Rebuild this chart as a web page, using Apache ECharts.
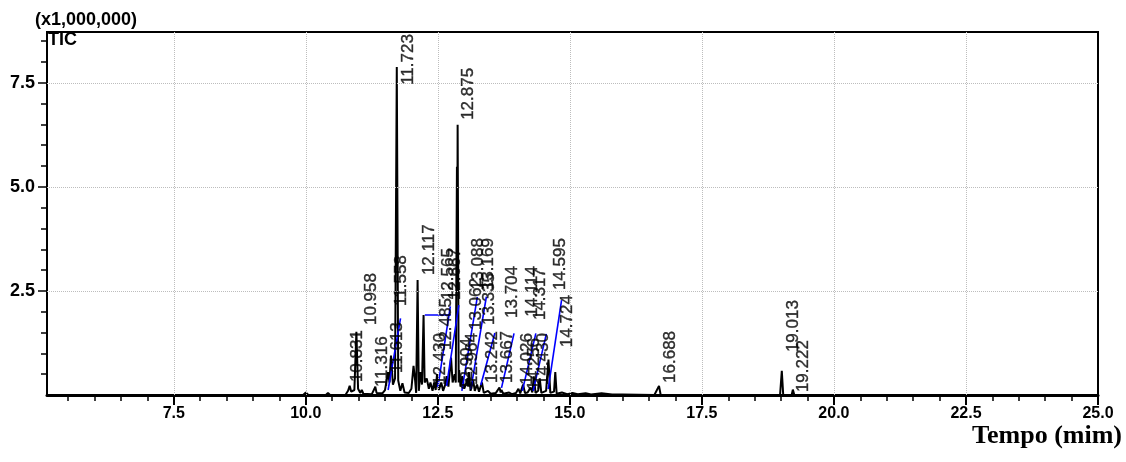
<!DOCTYPE html>
<html>
<head>
<meta charset="utf-8">
<script src="https://cdn.jsdelivr.net/npm/echarts@6/dist/echarts.min.js"></script>
<style>
html,body{margin:0;padding:0;background:#fff;}
#c{width:1126px;height:462px;}
</style>
</head>
<body>
<div id="c"></div>
<script>
// ---- data ----
const xMajorTicks = [7.5, 10.0, 12.5, 15.0, 17.5, 20.0, 22.5, 25.0];
const xMinorTicks = [5.5, 6.0, 6.5, 7.0, 8.0, 8.5, 9.0, 9.5, 10.5, 11.0, 11.5, 12.0, 13.0, 13.5, 14.0, 14.5, 15.5, 16.0, 16.5, 17.0, 18.0, 18.5, 19.0, 19.5, 20.5, 21.0, 21.5, 22.0, 23.0, 23.5, 24.0, 24.5];
const yMajorTicks = [2.5, 5.0, 7.5];
const yMinorTicks = [0.5, 1.0, 1.5, 2.0, 3.0, 3.5, 4.0, 4.5, 5.5, 6.0, 6.5, 7.0, 8.0, 8.5];
const gridX = [7.5, 10.0, 12.5, 15.0, 17.5, 20.0, 22.5];
const gridY = [2.5, 5.0, 7.5];

// TIC trace (x1,000,000)
const traceTime = [5.10, 9.95, 10.00, 10.05, 10.38, 10.42, 10.46, 10.75, 10.80, 10.831, 10.86, 10.92, 10.958, 10.99, 11.03, 11.06, 11.09, 11.25, 11.30, 11.316, 11.34, 11.45, 11.50, 11.53, 11.558, 11.585, 11.613, 11.65, 11.69, 11.723, 11.75, 11.79, 11.83, 11.87, 11.95, 12.00, 12.04, 12.07, 12.09, 12.117, 12.14, 12.17, 12.20, 12.23, 12.25, 12.29, 12.33, 12.36, 12.40, 12.43, 12.46, 12.485, 12.52, 12.565, 12.60, 12.64, 12.667, 12.70, 12.75, 12.78, 12.82, 12.84, 12.862, 12.868, 12.875, 12.895, 12.904, 12.93, 12.964, 13.00, 13.03, 13.062, 13.075, 13.088, 13.12, 13.14, 13.169, 13.20, 13.242, 13.28, 13.335, 13.37, 13.45, 13.50, 13.60, 13.667, 13.69, 13.704, 13.74, 13.85, 13.90, 13.98, 14.026, 14.06, 14.114, 14.15, 14.20, 14.256, 14.29, 14.317, 14.35, 14.40, 14.43, 14.46, 14.55, 14.595, 14.63, 14.70, 14.724, 14.75, 14.85, 14.95, 15.05, 15.15, 15.30, 15.40, 15.60, 15.80, 16.00, 16.60, 16.688, 16.72, 18.98, 19.013, 19.04, 19.20, 19.222, 19.25, 25.0];
const traceValue = [0.00, 0.00, 0.06, 0.00, 0.00, 0.05, 0.00, 0.00, 0.10, 0.22, 0.08, 0.12, 1.52, 0.15, 0.05, 0.12, 0.03, 0.02, 0.15, 0.20, 0.05, 0.04, 0.12, 0.08, 0.55, 0.30, 0.95, 0.25, 0.40, 7.88, 0.35, 0.10, 0.28, 0.06, 0.05, 0.15, 0.70, 0.35, 0.05, 2.76, 0.10, 0.55, 0.25, 1.92, 0.30, 0.40, 0.15, 0.30, 0.10, 0.30, 0.12, 0.50, 0.12, 0.30, 0.10, 0.25, 0.45, 0.20, 0.90, 0.30, 0.50, 0.30, 5.48, 3.00, 6.49, 0.30, 0.60, 0.20, 0.45, 0.15, 0.25, 0.40, 0.20, 0.55, 0.10, 0.20, 0.35, 0.10, 0.25, 0.08, 0.30, 0.05, 0.10, 0.03, 0.05, 0.18, 0.06, 0.12, 0.03, 0.06, 0.02, 0.05, 0.15, 0.04, 0.25, 0.05, 0.06, 0.18, 0.06, 0.45, 0.05, 0.10, 0.40, 0.05, 0.10, 0.85, 0.05, 0.08, 0.55, 0.03, 0.06, 0.02, 0.05, 0.02, 0.04, 0.01, 0.04, 0.01, 0.01, 0.00, 0.22, 0.00, 0.00, 0.58, 0.00, 0.00, 0.13, 0.00, 0.00];

// peak labels: text, where the label sits (time, intensity at its lower end)
const labelText  = ["10.831", "10.958", "11.316", "11.613", "11.558", "11.723", "12.117", "12.430", "12.485", "12.565", "12.667", "12.875", "12.904", "12.964", "13.062", "13.088", "13.169", "13.242", "13.335", "13.667", "13.704", "14.026", "14.114", "14.256", "14.317", "14.430", "14.595", "14.724", "16.688", "19.013", "19.222"];
const labelTime  = [10.985, 11.25, 11.458, 11.742, 11.818, 11.932, 12.348, 12.538, 12.652, 12.708, 12.84, 13.068, 13.049, 13.144, 13.22, 13.258, 13.447, 13.523, 13.466, 13.807, 13.902, 14.186, 14.28, 14.318, 14.432, 14.489, 14.811, 14.943, 16.894, 19.223, 19.413];
const labelValue = [0.31, 1.68, 0.19, 0.53, 2.14, 7.45, 2.88, 0.24, 1.08, 2.28, 2.28, 6.61, 0.12, 0.24, 1.56, 2.52, 2.52, 0.29, 1.68, 0.29, 1.85, 0.24, 1.88, 0.12, 1.80, 0.24, 2.52, 1.15, 0.29, 1.03, 0.07];

// blue marker segments: [t1, v1, t2, v2]
const blueSegments = [
  [11.559, 0.12, 11.794, 1.84],
  [12.254, 1.92, 12.746, 1.92],
  [12.500, 0.19, 12.737, 2.13],
  [12.665, 0.22, 12.898, 2.16],
  [12.955, 0.10, 13.248, 2.36],
  [13.125, 0.14, 13.419, 2.36],
  [13.314, 0.24, 13.580, 1.49],
  [13.706, 0.17, 13.943, 1.48],
  [14.100, 0.10, 14.356, 1.48],
  [14.305, 0.10, 14.555, 1.47],
  [14.589, 0.14, 14.843, 2.28]
];

const xMin = 5.1, xMax = 25.0, yMin = 0, yMax = 8.72;

// ---- chart ----
const chart = echarts.init(document.getElementById('c'), null, {renderer: 'canvas'});
const fmt1 = v => Number(v).toFixed(1);

const option = {
  animation: false,
  backgroundColor: '#ffffff',
  grid: {left: 47, right: 28, top: 32, bottom: 67, show: true, borderColor: '#000', borderWidth: 2, backgroundColor: 'transparent'},
  xAxis: [
    {
      type: 'value', min: xMin, max: xMax, position: 'bottom',
      axisLine: {show: true, onZero: false, lineStyle: {color: '#000', width: 3}},
      axisTick: {show: true, customValues: xMajorTicks, length: 10, lineStyle: {color: '#000', width: 2}},
      axisLabel: {show: true, customValues: xMajorTicks, formatter: fmt1, color: '#000', fontWeight: 'bold', fontSize: 16, fontFamily: 'Liberation Sans, Arial, sans-serif', margin: 11},
      splitLine: {show: false}, minorTick: {show: false}
    },
    {
      type: 'value', min: xMin, max: xMax, position: 'bottom',
      axisLine: {show: false, onZero: false},
      axisTick: {show: true, customValues: xMinorTicks, length: 6, lineStyle: {color: '#000', width: 1.5}},
      axisLabel: {show: false}, splitLine: {show: false}
    }
  ],
  yAxis: [
    {
      type: 'value', min: yMin, max: yMax, position: 'left',
      axisLine: {show: true, onZero: false, lineStyle: {color: '#000', width: 2}},
      axisTick: {show: true, customValues: yMajorTicks, length: 9, lineStyle: {color: '#000', width: 1.5}},
      axisLabel: {show: true, customValues: yMajorTicks, formatter: fmt1, color: '#000', fontWeight: 'bold', fontSize: 18, fontFamily: 'Liberation Sans, Arial, sans-serif', margin: 12},
      splitLine: {show: false}
    },
    {
      type: 'value', min: yMin, max: yMax, position: 'left',
      axisLine: {show: false, onZero: false},
      axisTick: {show: true, customValues: yMinorTicks, length: 6, lineStyle: {color: '#000', width: 1.5}},
      axisLabel: {show: false}, splitLine: {show: false}
    }
  ],
  graphic: [
    {type: 'text', left: 35, top: 11, style: {text: '(x1,000,000)', fill: '#000', font: 'bold 18px "Liberation Sans", Arial, sans-serif'}},
    {type: 'text', left: 48, top: 31, style: {text: 'TIC', fill: '#000', font: 'bold 18px "Liberation Sans", Arial, sans-serif'}},
    {type: 'text', right: 4, top: 423, style: {text: 'Tempo (mim)', fill: '#000', font: 'bold 26px "Liberation Serif", "Times New Roman", serif'}}
  ],
  series: [
    {
      type: 'line', xAxisIndex: 0, yAxisIndex: 0, data: [], z: 1, silent: true,
      markLine: {
        silent: true, symbol: ['none', 'none'], label: {show: false},
        lineStyle: {color: '#bdbdbd', type: 'dotted', width: 1},
        data: gridX.map(v => ({xAxis: v})).concat(gridY.map(v => ({yAxis: v})))
      }
    },
    {
      type: 'line', xAxisIndex: 0, yAxisIndex: 0, z: 3, silent: true,
      showSymbol: false, symbol: 'none',
      lineStyle: {color: '#000', width: 2},
      data: traceTime.map((t, i) => [t, traceValue[i]])
    },
    {
      type: 'lines', coordinateSystem: 'cartesian2d', xAxisIndex: 0, yAxisIndex: 0, z: 4, silent: true,
      lineStyle: {color: '#0000ff', width: 1.6, opacity: 1},
      data: blueSegments.map(s => ({coords: [[s[0], s[1]], [s[2], s[3]]]}))
    },
    {
      type: 'scatter', xAxisIndex: 0, yAxisIndex: 0, z: 5, silent: true,
      symbolSize: 0,
      data: labelText.map((s, i) => ({name: s, value: [labelTime[i], labelValue[i]]})),
      label: {
        show: true, position: [0, 0], rotate: 90, align: 'left', verticalAlign: 'middle',
        formatter: p => p.name, color: '#000', fontSize: 17,
        textBorderColor: '#000', textBorderWidth: 0.4,
        fontFamily: 'Liberation Sans, Arial, sans-serif'
      },
      labelLayout: {hideOverlap: false}
    }
  ]
};
chart.setOption(option);
</script>
</body>
</html>
